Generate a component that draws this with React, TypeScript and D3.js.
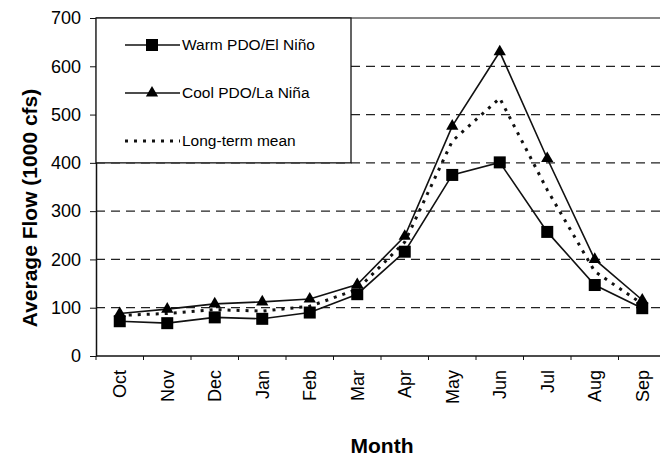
import React, { useRef, useEffect } from 'react';
import * as d3 from 'd3';

const MONTHS = ['Oct', 'Nov', 'Dec', 'Jan', 'Feb', 'Mar', 'Apr', 'May', 'Jun', 'Jul', 'Aug', 'Sep'];
const WARM = [72, 68, 80, 77, 90, 128, 216, 375, 401, 257, 147, 99];
const COOL = [88, 97, 108, 112, 118, 148, 248, 476, 630, 409, 200, 116];
const MEAN = [84, 88, 96, 93, 103, 138, 236, 445, 534, 344, 175, 108];
const Y_TICKS = [0, 100, 200, 300, 400, 500, 600, 700];
const FONT = 'Liberation Sans, Arial, Helvetica, sans-serif';

export default function App() {
    const svgRef = useRef<SVGSVGElement>(null);
    const width = 660;
    const height = 458;
    const margin = { top: 18, right: -6, bottom: 102, left: 96 };

    useEffect(() => {
        const svg = d3.select(svgRef.current);
        svg.selectAll('*').remove();

        const x = d3.scaleBand().domain(MONTHS).range([margin.left, width - margin.right]);
        const y = d3.scaleLinear().domain([0, 700]).range([height - margin.bottom, margin.top]);
        const cx = (m: string) => (x(m) as number) + x.bandwidth() / 2;

        // dashed gridlines
        svg.append('g')
            .selectAll('line')
            .data(Y_TICKS.filter(d => d > 0 && d < 700))
            .join('line')
            .attr('x1', margin.left)
            .attr('x2', width - margin.right)
            .attr('y1', d => y(d))
            .attr('y2', d => y(d))
            .attr('stroke', '#222')
            .attr('stroke-width', 1.2)
            .attr('stroke-dasharray', '9,6');

        // top border
        svg.append('line')
            .attr('x1', margin.left).attr('x2', width - margin.right)
            .attr('y1', y(700)).attr('y2', y(700))
            .attr('stroke', '#111').attr('stroke-width', 1.2);

        // x axis
        svg.append('line')
            .attr('x1', margin.left).attr('x2', width - margin.right)
            .attr('y1', y(0)).attr('y2', y(0))
            .attr('stroke', '#111').attr('stroke-width', 1.5);

        svg.append('g')
            .selectAll('line')
            .data(MONTHS)
            .join('line')
            .attr('x1', d => x(d) as number)
            .attr('x2', d => x(d) as number)
            .attr('y1', y(0))
            .attr('y2', y(0) + 4)
            .attr('stroke', '#111');

        svg.append('g')
            .selectAll('text')
            .data(MONTHS)
            .join('text')
            .attr('transform', d => `translate(${cx(d) + 6.5},${y(0) + 14}) rotate(-90)`)
            .attr('text-anchor', 'end')
            .attr('font-family', FONT)
            .attr('font-size', 18)
            .attr('fill', '#000')
            .text(d => d);

        // y axis
        svg.append('g')
            .attr('transform', `translate(${margin.left},0)`)
            .call(d3.axisLeft(y).tickValues(Y_TICKS).tickSize(6).tickPadding(9).tickSizeOuter(0))
            .call(g => g.select('.domain').attr('stroke', '#111').attr('stroke-width', 1.5))
            .call(g => g.selectAll('.tick line').attr('stroke', '#111'))
            .call(g => g.selectAll('.tick text')
                .attr('font-family', FONT)
                .attr('font-size', 18)
                .attr('fill', '#000'));

        // axis titles
        svg.append('text')
            .attr('transform', `translate(37,208) rotate(-90)`)
            .attr('text-anchor', 'middle')
            .attr('font-family', FONT)
            .attr('font-weight', 'bold')
            .attr('font-size', 21)
            .text('Average Flow (1000 cfs)');

        svg.append('text')
            .attr('x', 382)
            .attr('y', 453)
            .attr('text-anchor', 'middle')
            .attr('font-family', FONT)
            .attr('font-weight', 'bold')
            .attr('font-size', 21)
            .text('Month');

        const line = d3.line<number>()
            .x((_, i) => cx(MONTHS[i]))
            .y(d => y(d));

        // long-term mean
        svg.append('path')
            .datum(MEAN)
            .attr('fill', 'none')
            .attr('stroke', '#111')
            .attr('stroke-width', 3)
            .attr('stroke-dasharray', '3,6')
            .attr('d', line);

        // cool PDO
        svg.append('path')
            .datum(COOL)
            .attr('fill', 'none')
            .attr('stroke', '#111')
            .attr('stroke-width', 1.6)
            .attr('d', line);

        const tri = d3.symbol().type(d3.symbolTriangle).size(65);
        svg.append('g')
            .selectAll('path')
            .data(COOL)
            .join('path')
            .attr('transform', (d, i) => `translate(${cx(MONTHS[i])},${y(d)})`)
            .attr('d', tri)
            .attr('fill', '#000');

        // warm PDO
        svg.append('path')
            .datum(WARM)
            .attr('fill', 'none')
            .attr('stroke', '#111')
            .attr('stroke-width', 1.6)
            .attr('d', line);

        svg.append('g')
            .selectAll('rect')
            .data(WARM)
            .join('rect')
            .attr('x', (d, i) => cx(MONTHS[i]) - 6)
            .attr('y', d => y(d) - 6)
            .attr('width', 12)
            .attr('height', 12)
            .attr('fill', '#000');

        // legend
        const lg = svg.append('g');
        lg.append('rect')
            .attr('x', margin.left)
            .attr('y', y(700))
            .attr('width', 255)
            .attr('height', y(400) - y(700))
            .attr('fill', '#fff')
            .attr('stroke', '#111')
            .attr('stroke-width', 1.3);

        const items = [
            { label: 'Warm PDO/El Niño', marker: 'square', dash: null },
            { label: 'Cool PDO/La Niña', marker: 'triangle', dash: null },
            { label: 'Long-term mean', marker: null, dash: '3,6' },
        ];
        items.forEach((it, i) => {
            const ly = 45 + i * 48;
            lg.append('line')
                .attr('x1', 125).attr('x2', 180)
                .attr('y1', ly).attr('y2', ly)
                .attr('stroke', '#111')
                .attr('stroke-width', it.dash ? 3 : 1.6)
                .attr('stroke-dasharray', it.dash);
            if (it.marker === 'square') {
                lg.append('rect').attr('x', 146).attr('y', ly - 6).attr('width', 12).attr('height', 12).attr('fill', '#000');
            } else if (it.marker === 'triangle') {
                lg.append('path').attr('transform', `translate(152,${ly})`).attr('d', tri).attr('fill', '#000');
            }
            lg.append('text')
                .attr('x', 182)
                .attr('y', ly)
                .attr('dy', '0.35em')
                .attr('font-family', FONT)
                .attr('font-size', 15.5)
                .attr('fill', '#000')
                .text(it.label);
        });
    }, []);

    return (
        <svg
            ref={svgRef}
            width={width}
            height={height}
            style={{ position: 'absolute', left: 0, top: 0, background: '#fff', overflow: 'hidden' }}
        />
    );
}
